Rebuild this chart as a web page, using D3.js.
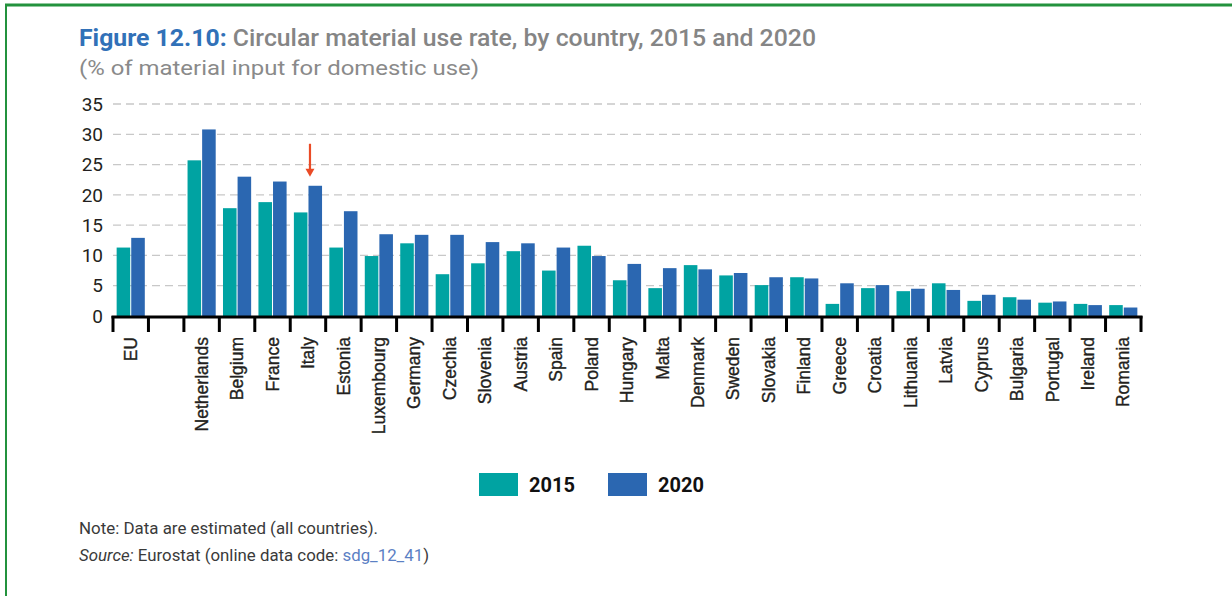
<!DOCTYPE html>
<html>
<head>
<meta charset="utf-8">
<script src="https://cdn.jsdelivr.net/npm/d3@7"></script>
<style>
    body { margin: 0; background: #fff; }
    svg { display: block; }
</style>
</head>
<body>
<div id="chart"></div>
<script>

// DATA
let countries = ["EU", "", "Netherlands", "Belgium", "France", "Italy", "Estonia", "Luxembourg", "Germany",
    "Czechia", "Slovenia", "Austria", "Spain", "Poland", "Hungary", "Malta", "Denmark", "Sweden", "Slovakia",
    "Finland", "Greece", "Croatia", "Lithuania", "Latvia", "Cyprus", "Bulgaria", "Portugal", "Ireland", "Romania"];

let values2015 = [11.3, null, 25.7, 17.8, 18.8, 17.1, 11.3, 9.9, 12.0, 6.9, 8.7, 10.7, 7.5, 11.6, 5.9, 4.6,
    8.4, 6.7, 5.1, 6.4, 2.0, 4.6, 4.1, 5.4, 2.5, 3.1, 2.2, 2.0, 1.8];

let values2020 = [12.9, null, 30.8, 23.0, 22.2, 21.5, 17.3, 13.5, 13.4, 13.4, 12.2, 12.0, 11.3, 9.9, 8.6, 7.9,
    7.7, 7.1, 6.4, 6.2, 5.4, 5.1, 4.5, 4.3, 3.5, 2.7, 2.4, 1.8, 1.4];

let years = ["2015", "2020"];
let yearColors = ["#00a3a2", "#2b67b1"];
let yTicks = [0, 5, 10, 15, 20, 25, 30, 35];
let highlight = "Italy";

let width = 1232, height = 596;
let margin = { top: 104, right: 91, bottom: 280, left: 113 };

let svg = d3.select("#chart").append("svg")
    .attr("width", width)
    .attr("height", height);

// FRAME (green rule top + left)
svg.append("line").attr("x1", 5).attr("x2", width).attr("y1", 5).attr("y2", 5)
    .attr("stroke", "#23923d").attr("stroke-width", 3);
svg.append("line").attr("x1", 6).attr("x2", 6).attr("y1", 5).attr("y2", height)
    .attr("stroke", "#23923d").attr("stroke-width", 2);

// squeeze a text element to a given width, like the condensed print font
function fitText(sel, w) {
    sel.attr("textLength", w).attr("lengthAdjust", "spacingAndGlyphs");
}

// TITLE
let title = svg.append("text")
    .attr("x", 79).attr("y", 46)
    .style("font-family", "Roboto, sans-serif")
    .style("font-size", "24px");
title.append("tspan").text("Figure 12.10: ")
    .style("font-weight", 700).attr("fill", "#3171b8");
title.append("tspan").text("Circular material use rate, by country, 2015 and 2020")
    .style("font-weight", 500).attr("fill", "#858585");
fitText(title, 737);

let subtitle = svg.append("text")
    .attr("x", 79).attr("y", 75)
    .style("font-family", "Roboto, sans-serif")
    .style("font-size", "21px")
    .attr("fill", "#8a8a8a")
    .text("(% of material input for domestic use)");
fitText(subtitle, 400);

// SCALES
let x = d3.scaleBand()
    .domain(countries)
    .range([margin.left, width - margin.right])
    .padding(0);

let xInner = d3.scaleBand()
    .domain(years)
    .range([0, x.bandwidth()])
    .paddingInner(0.07)
    .paddingOuter(0.25);

let y = d3.scaleLinear()
    .domain([0, 35])
    .range([height - margin.bottom, margin.top]);

let color = d3.scaleOrdinal().domain(years).range(yearColors);

// GRIDLINES
svg.append("g")
    .selectAll("line")
    .data(yTicks.filter(d => d > 0))
    .enter().append("line")
    .attr("x1", margin.left)
    .attr("x2", width - margin.right)
    .attr("y1", d => y(d))
    .attr("y2", d => y(d))
    .attr("stroke", "#c8c8c8")
    .attr("stroke-width", 1.3)
    .attr("stroke-dasharray", "8,5");

// Y AXIS LABELS
svg.append("g")
    .selectAll("text")
    .data(yTicks)
    .enter().append("text")
    .attr("x", 103)
    .attr("y", d => y(d))
    .attr("dy", "0.35em")
    .attr("text-anchor", "end")
    .style("font-family", "Roboto, sans-serif")
    .style("font-size", "19px")
    .attr("fill", "#231f20")
    .text(d => d);

// BARS
let rows = countries.map((c, i) => ({ country: c, values: [values2015[i], values2020[i]] }));

let groups = svg.append("g")
    .selectAll("g")
    .data(rows)
    .enter().append("g")
    .attr("transform", d => `translate(${x(d.country)},0)`);

groups.selectAll("rect")
    .data(d => years.map((yr, j) => ({ year: yr, value: d.values[j] })).filter(v => v.value !== null))
    .enter().append("rect")
    .attr("x", d => xInner(d.year))
    .attr("width", xInner.bandwidth())
    .attr("y", d => y(d.value))
    .attr("height", d => y(0) - y(d.value))
    .attr("fill", d => color(d.year));

// X AXIS: thick baseline + boundary ticks
let boundaries = countries.map(c => x(c)).concat([x(countries[countries.length - 1]) + x.bandwidth()]);

svg.append("line")
    .attr("x1", margin.left - 1.5)
    .attr("x2", width - margin.right + 1.5)
    .attr("y1", y(0) + 1)
    .attr("y2", y(0) + 1)
    .attr("stroke", "#000")
    .attr("stroke-width", 3);

svg.append("g")
    .selectAll("line")
    .data(boundaries)
    .enter().append("line")
    .attr("x1", d => d)
    .attr("x2", d => d)
    .attr("y1", y(0))
    .attr("y2", y(0) + 16)
    .attr("stroke", "#000")
    .attr("stroke-width", 3);

svg.append("g")
    .selectAll("text")
    .data(countries)
    .enter().append("text")
    .attr("transform", d => `translate(${x(d) + x.bandwidth() / 2},${y(0) + 21}) rotate(-90)`)
    .attr("dy", "0.35em")
    .attr("text-anchor", "end")
    .style("font-family", "'Liberation Sans Narrow', 'Arial Narrow', sans-serif")
    .style("font-size", "17.5px")
    .attr("fill", "#231f20")
    .attr("stroke", "#231f20")
    .attr("stroke-width", 0.35)
    .text(d => d);

// ARROW over Italy 2020
let ai = countries.indexOf(highlight);
let ax = x(highlight) + xInner("2020") + 1.5;
let atip = y(values2020[ai]) - 9;
svg.append("line")
    .attr("x1", ax).attr("x2", ax)
    .attr("y1", atip - 33).attr("y2", atip - 6)
    .attr("stroke", "#ea4b26")
    .attr("stroke-width", 2.2);
svg.append("path")
    .attr("d", `M${ax - 4.5},${atip - 8} L${ax + 4.5},${atip - 8} L${ax},${atip} Z`)
    .attr("fill", "#ea4b26");

// LEGEND
let legend = svg.append("g")
    .selectAll("g")
    .data(years)
    .enter().append("g")
    .attr("transform", (d, i) => `translate(${479 + i * 129},473)`);

legend.append("rect")
    .attr("width", 39)
    .attr("height", 23)
    .attr("fill", d => color(d));

legend.append("text")
    .attr("x", 50)
    .attr("y", 18.5)
    .style("font-family", "Roboto, sans-serif")
    .style("font-size", "20px")
    .style("font-weight", 700)
    .attr("fill", "#111")
    .text(d => d);

// NOTES
let note = svg.append("text")
    .attr("x", 79).attr("y", 534)
    .style("font-family", "Roboto, sans-serif")
    .style("font-size", "17px")
    .attr("fill", "#3a3a3a")
    .text("Note: Data are estimated (all countries).");
fitText(note, 299);

let source = svg.append("text")
    .attr("x", 79).attr("y", 561)
    .style("font-family", "Roboto, sans-serif")
    .style("font-size", "17px")
    .attr("fill", "#3a3a3a");
source.append("tspan").text("Source:").style("font-style", "italic");
source.append("tspan").text(" Eurostat (online data code: ");
source.append("tspan").text("sdg_12_41").attr("fill", "#5b80c4");
source.append("tspan").text(")");
fitText(source, 350);

</script>
</body>
</html>
